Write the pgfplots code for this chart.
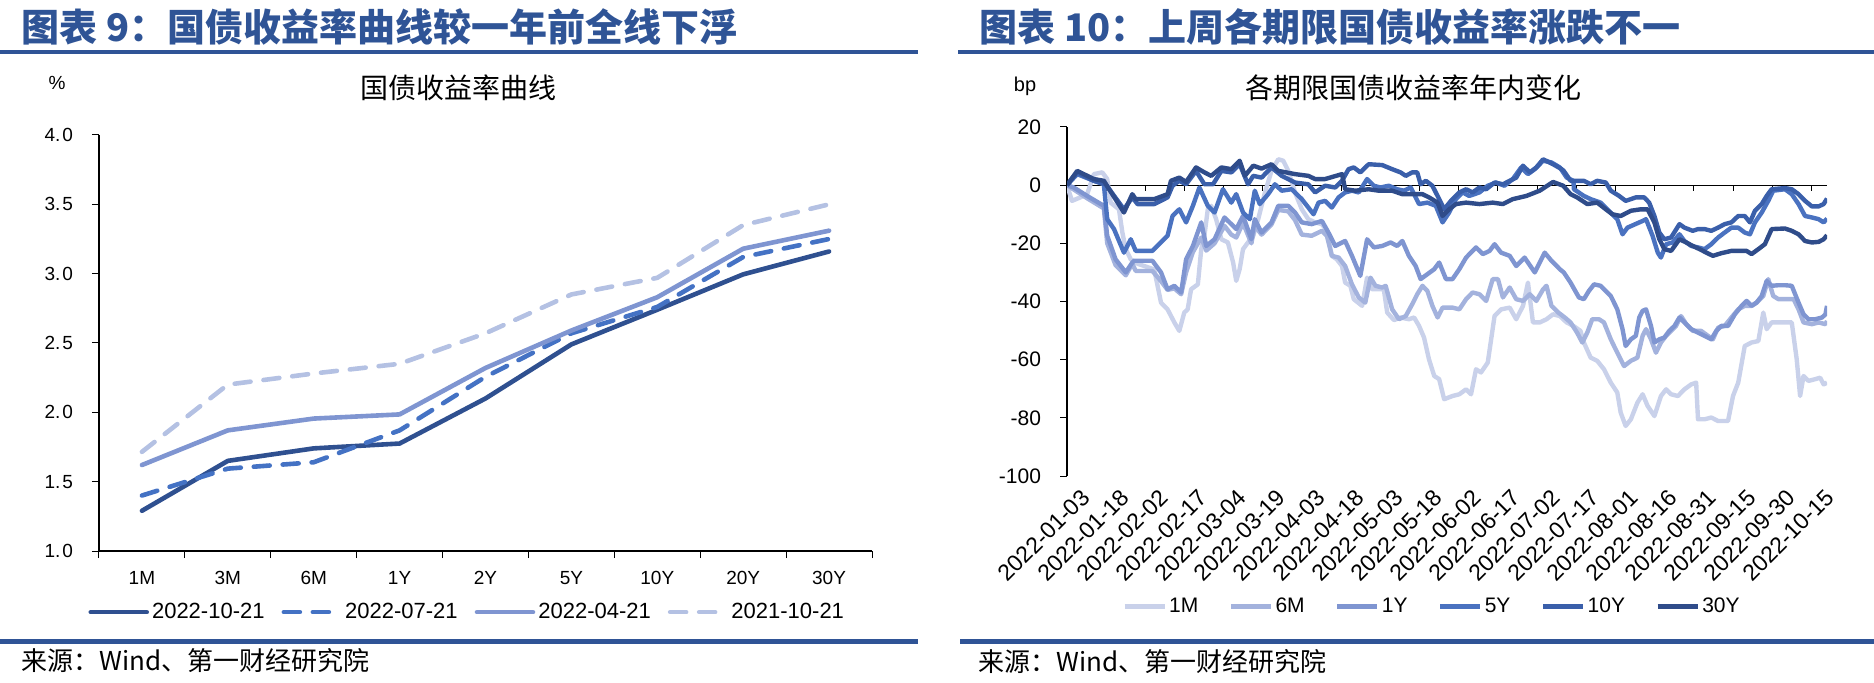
\documentclass[border=0pt]{standalone}
\usepackage{pgfplots}
\pgfplotsset{compat=1.18}
\usepackage{fontspec}
\setmainfont{Liberation Sans}
\newfontfamily\cjk{Noto Sans CJK SC}
\definecolor{tblue}{HTML}{2F5496}
\definecolor{cA}{HTML}{2F5090}
\definecolor{cB}{HTML}{4472C4}
\definecolor{cC}{HTML}{7F95D1}
\definecolor{cD}{HTML}{B4C1E3}
\definecolor{m1}{HTML}{C9D1EA}
\definecolor{m6}{HTML}{A3B2DD}
\definecolor{y1}{HTML}{7F95D1}
\definecolor{y5}{HTML}{4A72C0}
\definecolor{y10}{HTML}{3A5FAA}
\definecolor{y30}{HTML}{2F4C8A}
\begin{document}
\begin{tikzpicture}[x=0.5pt,y=-0.5pt]
\path[use as bounding box] (0,0) rectangle (1874,683);
% header and footer bars
\fill[tblue] (0,50) rectangle (918,54);
\fill[tblue] (958,50) rectangle (1874,54);
\fill[tblue] (0,639) rectangle (918,644);
\fill[tblue] (960,639) rectangle (1874,644);
\node[anchor=west, inner sep=0pt, text=tblue, font=\cjk\bfseries\fontsize{19}{22}\selectfont] at (21,27) {图表 9：国债收益率曲线较一年前全线下浮};
\node[anchor=west, inner sep=0pt, text=tblue, font=\cjk\bfseries\fontsize{19}{22}\selectfont] at (979,27) {图表 10：上周各期限国债收益率涨跌不一};
\node[anchor=west, inner sep=0pt, font=\cjk\fontsize{13}{15}\selectfont] at (21,661) {来源：Wind、第一财经研究院};
\node[anchor=west, inner sep=0pt, font=\cjk\fontsize{13}{15}\selectfont] at (978,662) {来源：Wind、第一财经研究院};
% chart titles and units
\node[inner sep=0pt, font=\cjk\fontsize{14}{16}\selectfont] at (458,88) {国债收益率曲线};
\node[inner sep=0pt, font=\cjk\fontsize{14}{16}\selectfont] at (1413,88) {各期限国债收益率年内变化};
\node[inner sep=0pt, font=\fontsize{9.5}{11}\selectfont] at (57,83) {\%};
\node[inner sep=0pt, font=\fontsize{10}{11}\selectfont] at (1025,86) {bp};

% ---------------- left chart ----------------
\begin{axis}[
  at={(49.5pt,-275.5pt)}, anchor=south west, scale only axis,
  width=386.5pt, height=208pt,
  xmin=-0.5, xmax=8.5, ymin=1, ymax=4,
  axis x line*=bottom, axis y line*=left,
  axis line style={line width=0.6pt, black},
  xtick={-0.5,0.5,1.5,2.5,3.5,4.5,5.5,6.5,7.5,8.5},
  x tick label as interval,
  xticklabels={1M,3M,6M,1Y,2Y,5Y,10Y,20Y,30Y},
  ytick={1,1.5,2,2.5,3,3.5,4},
  yticklabels={1.\kern1pt0,1.\kern1pt5,2.\kern1pt0,2.\kern1pt5,3.\kern1pt0,3.\kern1pt5,4.\kern1pt0},
  tick align=outside, major tick length=3.5pt,
  tick style={black, line width=0.5pt},
  tick label style={font=\fontsize{9.5}{11}\selectfont},
  yticklabel style={xshift=-6pt},
  xticklabel style={yshift=-3pt},
  /pgf/number format/assume math mode=true,
  legend style={at={(0.477,-0.147)}, anchor=center, draw=none, fill=none,
    legend columns=4, font=\fontsize{11}{13}\selectfont,
    /tikz/every even column/.append style={column sep=7pt},
    nodes={inner sep=1.5pt}},
  legend image code/.code={\draw[#1] (0pt,0pt) -- (28pt,0pt);},
  every axis plot/.append style={line width=2.3pt, line join=round},
]
\addplot[cA, line cap=round] coordinates {(0,1.29)(1,1.65)(2,1.74)(3,1.775)(4,2.10)(5,2.49)(6,2.74)(7,2.995)(8,3.16)};
\addlegendentry{2022-10-21}
\addplot[cB, line cap=round, dash pattern=on 8pt off 6.5pt] coordinates {(0,1.40)(1,1.594)(2,1.64)(3,1.87)(4,2.256)(5,2.57)(6,2.76)(7,3.12)(8,3.25)};
\addlegendentry{2022-07-21}
\addplot[cC, line cap=round] coordinates {(0,1.62)(1,1.87)(2,1.955)(3,1.985)(4,2.32)(5,2.59)(6,2.83)(7,3.18)(8,3.31)};
\addlegendentry{2022-04-21}
\addplot[cD, line cap=round, dash pattern=on 8pt off 6.5pt] coordinates {(0,1.715)(1,2.20)(2,2.28)(3,2.35)(4,2.57)(5,2.85)(6,2.97)(7,3.35)(8,3.50)};
\addlegendentry{2021-10-21}
\end{axis}

% ---------------- right chart ----------------
\begin{axis}[
  at={(533.5pt,-238pt)}, anchor=south west, scale only axis,
  width=380pt, height=174.5pt,
  xmin=0, xmax=291, ymin=-100, ymax=20,
  axis x line*=bottom, axis y line*=left,
  x axis line style={draw=none},
  y axis line style={line width=0.6pt, black},
  xtick={0,15,30,45,60,75,90,105,120,135,150,165,180,195,210,225,240,255,270,285},
  xticklabels={2022-01-03,2022-01-18,2022-02-02,2022-02-17,2022-03-04,2022-03-19,2022-04-03,2022-04-18,2022-05-03,2022-05-18,2022-06-02,2022-06-17,2022-07-02,2022-07-17,2022-08-01,2022-08-16,2022-08-31,2022-09-15,2022-09-30,2022-10-15},
  xtick style={draw=none},
  ytick={-100,-80,-60,-40,-20,0,20},
  tick align=outside, major tick length=3.5pt,
  ytick style={black, line width=0.5pt},
  yticklabel style={font=\fontsize{10.5}{12}\selectfont, xshift=-6pt},
  xticklabel style={font=\fontsize{11.5}{13}\selectfont, rotate=45, anchor=north east, inner sep=0pt, xshift=3pt, yshift=-6pt},
  /pgf/number format/assume math mode=true,
  legend style={at={(0.48,-0.375)}, anchor=center, draw=none, fill=none,
    legend columns=6, font=\fontsize{10.5}{12}\selectfont,
    /tikz/every even column/.append style={column sep=14pt},
    nodes={inner sep=1pt}},
  legend image code/.code={\draw[#1, line width=2.6pt] (0pt,0pt) -- (20pt,0pt);},
  every axis plot/.append style={line width=2.2pt, line join=round},
]
\draw[black, line width=0.6pt] (axis cs:0,0) -- (axis cs:291,0);
\pgfplotsinvokeforeach{15,30,45,60,75,90,105,120,135,150,165,180,195,210,225,240,255,270,285}{\draw[black, line width=0.5pt] (axis cs:#1,0) -- ++(0pt,-3pt);}
% 1M
\addplot[m1] coordinates {(0,0) (1.9,-5.4) (5.1,-4.2) (7.7,-3.1) (10.3,3.8) (13.5,4.4) (15.4,2.1) (16.7,-6.0) (19.9,-8.3) (21.2,-16.3) (22.5,-22.0) (24.4,-25.5) (27.0,-27.0) (33.4,-29.0) (36.0,-40.4) (38.5,-42.7) (41.1,-47.2) (43.0,-50.1) (44.9,-43.8) (46.2,-42.7) (47.5,-35.8) (50.1,-34.1) (51.4,-22.0) (52.6,-17.4) (53.9,-8.3) (55.2,-7.1) (57.1,-11.7) (59.1,-18.6) (61.6,-19.7) (63.6,-26.6) (64.8,-32.9) (66.1,-28.9) (67.4,-22.0) (69.3,-19.7) (71.3,-17.4) (73.2,-11.7) (75.8,-2.5) (78.3,4.9) (80.9,8.9) (82.8,8.4) (84.7,5.0) (87.3,-2.5) (89.9,-8.3) (92.4,-11.7) (95.0,-12.8) (97.6,-13.4) (99.5,-15.7) (101.4,-24.3) (103.3,-25.5) (105.3,-27.8) (106.5,-33.5) (108.5,-34.6) (109.8,-39.2) (113.0,-41.5) (114.9,-31.8) (116.8,-35.8) (121.3,-35.8) (122.6,-43.8) (125.2,-46.4) (127.7,-45.5) (130.9,-46.1) (132.9,-45.5) (134.8,-48.4) (136.7,-52.4) (138.6,-59.9) (140.6,-65.6) (142.5,-66.7) (144.4,-73.6) (147.6,-72.5) (150.2,-71.9) (152.8,-70.2) (154.7,-71.9) (156.6,-63.3) (158.5,-64.4) (161.1,-61.0) (163.7,-45.0) (166.2,-42.7) (169.5,-42.1) (172.0,-46.1) (174.6,-41.5) (176.5,-33.5) (178.4,-47.2) (181.0,-47.2) (183.6,-46.1) (186.1,-44.4) (188.7,-45.0) (191.3,-47.2) (193.9,-48.4) (196.6,-50.1) (197.9,-54.1) (200.5,-59.3) (203.0,-60.4) (205.6,-63.3) (208.2,-67.9) (210.7,-71.3) (212.0,-78.2) (213.9,-82.8) (215.9,-80.5) (218.4,-74.8) (220.4,-71.9) (222.3,-75.9) (224.9,-79.4) (227.4,-72.5) (229.4,-70.2) (231.3,-71.9) (233.9,-72.5) (236.4,-70.2) (239.0,-68.5) (240.9,-67.9) (241.6,-80.5) (244.1,-80.5) (246.7,-79.9) (249.3,-81.1) (253.1,-81.1) (255.0,-72.5) (257.0,-67.9) (259.5,-55.3) (262.1,-54.1) (264.7,-53.6) (266.6,-43.8) (267.9,-49.5) (269.8,-47.2) (272.4,-47.2) (277.5,-47.2) (279.4,-59.9) (280.7,-72.5) (282.0,-65.6) (283.9,-67.3) (286.5,-66.7) (288.4,-66.2) (289.7,-68.5) (291,-67.9)};
\addlegendentry{1M}
% 6M
\addplot[m6] coordinates {(0,0) (2.6,-1.5) (7.7,-4.5) (14.1,-8.0) (15.4,-20.0) (18.6,-27.5) (22.5,-31.0) (25.0,-27.0) (26.3,-29.5) (32.7,-29.5) (36.0,-33.0) (38.5,-36.0) (41.1,-35.5) (43.7,-37.5) (45.6,-30.0) (48.2,-23.0) (51.4,-18.0) (53.3,-22.5) (56.5,-20.0) (60.3,-14.0) (62.9,-17.0) (64.8,-18.0) (67.4,-13.0) (70.6,-20.0) (71.9,-14.0) (74.5,-17.0) (78.3,-13.5) (80.9,-8.5) (84.7,-9.0) (87.3,-12.0) (89.9,-17.0) (93.7,-17.4) (97.6,-15.7) (99.5,-17.4) (101.4,-24.3) (104.0,-24.9) (106.5,-27.8) (109.1,-34.1) (111.7,-38.6) (114.2,-40.4) (116.2,-31.8) (118.1,-34.6) (120.7,-35.2) (122.0,-34.6) (124.5,-42.7) (127.1,-46.1) (129.7,-45.0) (132.2,-40.9) (134.1,-37.5) (136.1,-34.6) (138.0,-36.4) (139.9,-41.5) (141.9,-45.5) (143.8,-42.1) (147.6,-42.1) (150.2,-42.7) (152.8,-39.2) (155.3,-36.9) (157.9,-37.5) (160.5,-39.8) (163.0,-32.3) (165.0,-32.3) (166.9,-38.6) (169.5,-35.2) (172.0,-39.2) (174.6,-39.8) (177.2,-37.5) (179.7,-39.8) (182.3,-35.8) (183.6,-34.6) (185.5,-41.5) (188.1,-43.8) (190.6,-45.5) (192.8,-47.2) (195.3,-50.7) (197.3,-54.1) (199.2,-50.7) (201.1,-46.1) (203.7,-46.1) (205.6,-47.2) (208.2,-53.0) (210.7,-57.6) (213.3,-62.2) (215.9,-60.4) (218.4,-59.3) (220.4,-51.8) (221.7,-49.5) (223.6,-53.0) (225.5,-57.6) (227.4,-54.1) (229.4,-51.8) (231.3,-50.1) (233.2,-48.4) (235.1,-45.0) (237.1,-47.8) (239.6,-50.1) (242.8,-50.1) (245.4,-51.8) (247.3,-53.0) (249.3,-49.0) (251.8,-48.4) (254.4,-45.5) (257.0,-42.7) (259.5,-41.5) (262.1,-41.5) (264.0,-40.4) (266.6,-38.1) (268.5,-32.3) (270.4,-38.1) (272.4,-39.2) (274.9,-39.2) (278.2,-39.2) (280.1,-42.7) (282.0,-47.2) (285.2,-47.8) (287.8,-47.2) (290.4,-47.8) (291,-46.7)};
\addlegendentry{6M}
% 1Y
\addplot[y1] coordinates {(0,0) (2.6,-0.8) (7.7,-3.7) (14.1,-7.1) (15.4,-17.4) (18.6,-25.5) (22.5,-30.0) (25.0,-26.6) (25.7,-26.0) (32.7,-26.0) (36.0,-30.0) (38.5,-35.8) (41.1,-34.6) (43.7,-36.9) (45.6,-25.5) (48.2,-20.9) (51.4,-12.8) (53.3,-20.9) (56.5,-18.6) (60.3,-11.1) (62.9,-13.4) (64.8,-15.1) (67.4,-10.6) (70.6,-18.6) (71.9,-11.7) (74.5,-16.3) (78.3,-12.8) (80.9,-7.1) (84.7,-7.1) (87.3,-9.4) (89.9,-12.8) (93.7,-13.4) (97.6,-12.3) (100.1,-16.3) (102.7,-20.9) (106.5,-19.2) (109.1,-24.3) (112.3,-31.2) (114.9,-18.6) (117.5,-21.4) (120.7,-20.9) (123.9,-19.7) (126.4,-20.9) (128.4,-19.2) (130.9,-24.3) (133.5,-27.8) (135.4,-32.3) (138.0,-30.6) (140.6,-28.9) (142.5,-26.6) (145.1,-32.3) (147.6,-32.3) (150.2,-28.9) (152.8,-24.9) (156.6,-21.4) (159.2,-23.7) (161.8,-22.6) (163.7,-20.3) (166.2,-23.2) (169.5,-24.3) (172.0,-27.8) (175.2,-24.9) (179.1,-30.0) (182.9,-23.2) (185.5,-26.0) (188.7,-28.9) (190.2,-30.0) (192.8,-33.5) (196.0,-38.6) (197.9,-39.2) (199.8,-36.4) (201.8,-34.1) (204.3,-34.6) (206.3,-36.4) (208.2,-38.1) (210.7,-42.7) (212.7,-49.5) (213.9,-55.3) (215.9,-53.0) (217.8,-51.8) (219.1,-45.5) (220.4,-43.2) (221.7,-42.7) (223.6,-48.4) (224.9,-54.1) (226.8,-53.0) (228.7,-52.4) (230.6,-50.1) (232.6,-48.4) (234.5,-45.5) (236.4,-47.2) (239.0,-49.5) (241.6,-50.7) (244.1,-51.8) (246.7,-53.0) (248.6,-50.1) (250.5,-48.4) (253.1,-48.4) (255.7,-44.4) (258.3,-41.5) (260.2,-39.8) (262.1,-41.5) (264.0,-40.4) (266.0,-38.1) (267.9,-32.9) (269.8,-34.6) (272.4,-34.4) (274.9,-34.4) (277.5,-34.6) (280.1,-40.4) (282.0,-44.4) (283.9,-46.1) (286.5,-46.1) (289.1,-45.5) (290.4,-44.4) (291,-41.5)};
\addlegendentry{1Y}
% 5Y
\addplot[y5] coordinates {(0,0) (3.9,3.8) (10.3,1.5) (14.1,0.3) (15.4,-11.7) (18.0,-15.1) (21.8,-23.2) (24.4,-18.6) (26.3,-22.6) (32.7,-22.6) (38.5,-17.4) (40.4,-10.6) (43.0,-8.3) (45.6,-12.8) (48.2,-7.1) (50.7,-0.8) (53.9,-7.1) (56.5,-9.4) (59.7,-1.4) (62.9,-6.0) (64.8,-3.1) (67.4,-9.4) (70.0,-11.7) (71.9,-1.9) (73.8,-6.5) (77.0,-3.1) (79.6,0.3) (82.2,-1.9) (86.0,-1.4) (89.9,-4.8) (94.4,-10.0) (96.3,-6.0) (98.8,-5.4) (101.4,-7.7) (104.0,-4.2) (106.5,-2.5) (109.1,-1.9) (111.7,-2.5) (114.9,2.1) (117.5,-0.2) (120.0,-0.8) (123.2,-0.2) (126.4,-1.4) (129.0,-1.9) (131.6,-0.8) (134.8,-6.5) (138.0,-6.0) (141.2,-7.1) (143.8,-12.8) (146.3,-9.4) (148.9,-4.8) (151.5,-2.5) (154.0,-3.7) (157.9,-2.5) (161.1,-0.2) (164.3,0.9) (167.5,-0.2) (170.7,2.1) (173.9,6.1) (176.5,3.8) (179.1,5.5) (182.3,8.4) (185.5,7.8) (188.7,6.1) (191.3,2.6) (193.9,1.5) (194.1,-1.4) (197.9,-3.7) (200.5,-4.8) (204.3,-6.0) (206.9,-8.3) (210.7,-11.7) (212.7,-16.9) (214.6,-14.6) (220.4,-12.3) (221.7,-11.7) (224.2,-17.4) (226.2,-23.2) (227.4,-24.9) (229.4,-20.3) (231.9,-19.7) (234.5,-16.9) (236.4,-19.2) (239.0,-20.9) (241.6,-21.4) (244.1,-22.0) (246.7,-20.3) (249.3,-18.0) (251.8,-16.3) (254.4,-14.6) (257.0,-14.6) (259.5,-16.3) (261.5,-16.9) (263.4,-12.8) (266.0,-9.4) (268.5,-5.4) (270.4,-1.9) (274.9,-1.4) (277.5,-3.1) (280.1,-6.5) (282.6,-10.6) (285.2,-11.1) (287.8,-11.7) (289.7,-12.8) (291,-11.5)};
\addlegendentry{5Y}
% 10Y
\addplot[y10] coordinates {(0,0) (3.9,4.4) (10.3,1.5) (14.8,0.3) (21.8,-8.3) (25.0,-4.2) (27.0,-6.5) (33.4,-6.5) (38.5,-4.2) (40.4,-0.2) (43.0,1.5) (45.6,0.3) (49.4,4.9) (52.6,0.3) (55.9,0.3) (59.1,4.9) (62.9,4.4) (66.1,7.2) (69.3,0.3) (71.3,3.2) (74.5,2.6) (78.3,6.1) (82.2,3.2) (87.3,0.9) (92.4,0.3) (95.0,-2.5) (98.8,-0.2) (102.7,-0.8) (105.3,1.5) (107.8,5.5) (109.8,6.1) (112.3,4.4) (115.5,7.2) (120.7,6.9) (124.5,5.5) (127.7,4.4) (129.7,3.2) (132.2,4.4) (134.1,4.4) (135.4,0.3) (137.4,1.5) (139.9,-0.2) (142.5,-4.8) (144.4,-8.3) (147.0,-5.4) (150.2,-2.5) (152.8,-1.4) (155.3,-2.5) (157.9,-0.8) (160.5,-1.4) (163.7,0.9) (166.9,0.3) (169.5,1.5) (172.0,2.6) (174.6,6.7) (177.2,4.4) (179.7,6.1) (182.3,8.9) (186.1,7.2) (189.4,5.5) (190.2,4.9) (192.8,1.5) (197.9,1.5) (200.5,0.3) (203.0,1.5) (206.3,0.9) (208.2,-1.9) (211.4,-3.7) (213.9,-5.4) (215.9,-4.8) (217.8,-4.2) (221.0,-4.2) (222.9,-6.0) (224.9,-10.6) (226.8,-16.3) (228.7,-18.6) (231.3,-18.0) (234.5,-13.4) (236.4,-14.6) (239.6,-15.7) (241.6,-15.1) (244.1,-15.1) (246.7,-15.7) (249.3,-14.6) (251.8,-13.4) (254.4,-12.8) (257.0,-10.6) (259.5,-10.6) (261.5,-12.8) (263.4,-8.8) (266.0,-6.5) (267.9,-3.7) (269.8,-1.4) (274.9,-1.0) (277.5,-1.4) (280.1,-3.1) (282.6,-5.4) (285.2,-7.3) (287.8,-7.3) (289.7,-6.5) (291,-4.6)};
\addlegendentry{10Y}
% 30Y
\addplot[y30] coordinates {(0,0) (3.9,4.9) (10.3,2.1) (14.1,1.5) (21.8,-9.4) (25.0,-3.1) (26.3,-4.8) (33.4,-4.8) (38.5,-3.1) (39.8,1.5) (43.0,2.6) (45.6,1.1) (49.4,6.1) (52.6,4.4) (55.2,3.2) (59.1,6.1) (62.9,5.5) (66.1,8.4) (68.1,3.2) (71.3,6.7) (74.5,5.7) (78.3,7.2) (80.9,4.9) (87.3,3.8) (92.4,3.2) (95.0,2.1) (98.8,2.1) (105.3,3.8) (106.5,-1.4) (110.4,-1.9) (115.5,-1.4) (119.4,-1.9) (124.5,-1.9) (128.4,-3.1) (132.2,-3.1) (136.1,-3.1) (138.6,-4.2) (141.9,-6.0) (143.8,-10.6) (146.3,-8.3) (148.9,-6.5) (152.8,-6.0) (157.9,-6.5) (163.0,-6.0) (166.9,-6.5) (170.7,-4.8) (175.9,-3.7) (181.0,-1.9) (186.1,1.1) (190.0,-0.2) (192.8,-3.1) (195.3,-4.2) (199.2,-6.5) (203.0,-6.0) (206.3,-8.3) (208.8,-10.0) (212.0,-10.6) (215.9,-8.8) (219.7,-8.3) (222.3,-8.3) (224.9,-12.8) (226.8,-18.6) (228.7,-22.0) (231.3,-22.6) (234.5,-18.6) (237.1,-19.7) (239.6,-20.9) (242.2,-22.0) (244.8,-23.2) (247.3,-24.3) (250.5,-23.4) (254.4,-22.6) (257.6,-22.6) (260.2,-22.6) (262.1,-23.7) (264.7,-22.0) (267.2,-20.3) (269.8,-15.1) (274.9,-14.9) (277.5,-15.7) (280.1,-16.9) (282.6,-19.2) (285.2,-19.7) (287.8,-19.5) (289.7,-18.6) (291,-17.2)};
\addlegendentry{30Y}
\end{axis}
\end{tikzpicture}
\end{document}
